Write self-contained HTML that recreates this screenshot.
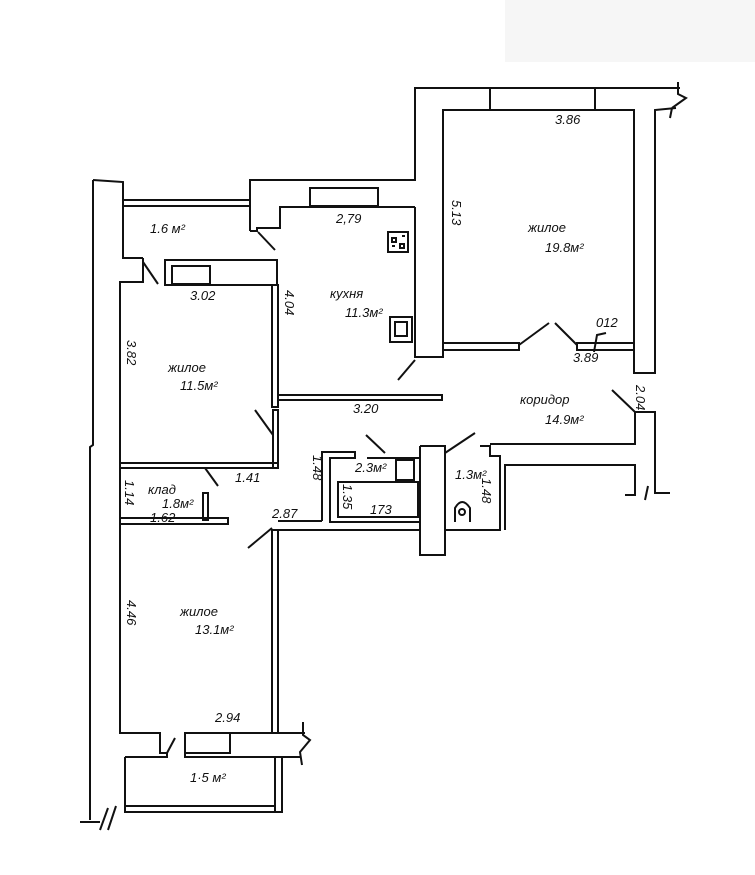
<!DOCTYPE html>
<html><head><meta charset="utf-8"><style>
html,body{margin:0;padding:0;background:#fff;}
svg{display:block}
text{font-family:"Liberation Sans",sans-serif;font-style:italic;fill:#111;font-size:13px}
</style></head><body>
<svg width="755" height="875" viewBox="0 0 755 875" xmlns="http://www.w3.org/2000/svg">
<rect x="505" y="0" width="250" height="62" fill="#f6f6f6"/>
<g fill="none" stroke="#111" stroke-width="2" stroke-linejoin="miter">
<!-- left outer wall -->
<polyline points="93,180 123,182 123,258 143,258"/>
<polyline points="93,180 93,445 90,447 90,820"/>
<line x1="80" y1="822" x2="100" y2="822"/>
<path d="M100,830 L108,808 M108,830 L116,806"/>
<!-- balcony 1.6 -->
<line x1="123" y1="200" x2="250" y2="200"/><line x1="123" y1="206" x2="250" y2="206"/>
<line x1="143" y1="262" x2="158" y2="284"/>
<polyline points="143,258 143,282 120,282 120,733 160,733 160,753 167,753"/>
<rect x="165" y="260" width="112" height="25"/>
<rect x="172" y="266" width="38" height="18"/>
<!-- kitchen block -->
<polyline points="250,231 250,180 415,180 415,88 680,88"/>
<polyline points="250,231 257,231 257,228 280,228 280,207 415,207"/>
<rect x="310" y="188" width="68" height="18"/>
<line x1="258" y1="232" x2="275" y2="250"/>
<rect x="272" y="285" width="6" height="122"/>
<rect x="278" y="395" width="164" height="5"/>
<polyline points="415,207 415,357 443,357 443,110 634,110 634,373 655,373 655,110 676,108"/>
<path d="M678,82 L678,94 L686,98 L672,108 M672,108 L670,118"/>
<rect x="490" y="88" width="105" height="22"/>
<line x1="398" y1="380" x2="415" y2="360"/>
<rect x="388" y="232" width="20" height="20"/>
<path d="M392,238h4v4h-4z M400,244h4v4h-4z M392,246h3 M402,236h3"/>
<rect x="390" y="317" width="22" height="25"/><rect x="395" y="322" width="12" height="14"/>
<!-- big room bottom -->
<rect x="443" y="343" width="76" height="7"/>
<rect x="577" y="343" width="57" height="7"/>
<line x1="519" y1="345" x2="549" y2="323"/><line x1="555" y1="323" x2="577" y2="345"/>
<path d="M594,352 L597,335 L606,333"/>
<!-- bedroom 11.5 right + bottom -->
<rect x="273" y="410" width="5" height="58"/>
<line x1="255" y1="410" x2="273" y2="435"/>
<rect x="120" y="463" width="158" height="5"/>
<line x1="205" y1="468" x2="218" y2="486"/>
<!-- storage -->
<rect x="203" y="493" width="5" height="27"/>
<rect x="120" y="518" width="108" height="6"/>
<!-- bathroom -->
<polyline points="322,521 322,452 355,452 355,458 330,458 330,522 420,522"/>
<polyline points="278,530 420,530"/>
<polyline points="278,521 322,521"/>
<rect x="338" y="482" width="80" height="35"/>
<rect x="396" y="460" width="18" height="20"/>
<polyline points="367,458 420,458"/>
<line x1="366" y1="435" x2="385" y2="453"/>
<polyline points="420,446 445,446 445,555 420,555 420,446"/>
<line x1="445" y1="453" x2="475" y2="433"/>
<polyline points="445,520 445,530 478,530"/>
<polyline points="480,446 490,446 490,456 500,456 500,530 478,530"/>
<path d="M455,522 L455,508 Q462,496 470,508 L470,522"/>
<circle cx="462" cy="512" r="3"/>
<!-- corridor right -->
<polyline points="490,444 635,444 635,412 655,412 655,493 670,493"/>
<polyline points="505,530 505,465 635,465 635,495 625,495"/>
<line x1="612" y1="390" x2="635" y2="412"/>
<path d="M645,500 L648,486"/>
<!-- lower bedroom -->
<line x1="248" y1="548" x2="272" y2="528"/>
<rect x="272" y="530" width="6" height="203"/>
<polyline points="185,733 305,733"/>
<path d="M303,722 L303,735 L310,740 L300,752 L302,765"/>
<rect x="185" y="733" width="45" height="20"/>
<!-- balcony 1.5 -->
<polyline points="125,757 167,757 167,753"/>
<line x1="167" y1="753" x2="175" y2="738"/>
<polyline points="185,733 185,757 282,757 282,812 125,812 125,757"/>
<line x1="125" y1="806" x2="275" y2="806"/>
<line x1="275" y1="757" x2="275" y2="812"/>
<line x1="282" y1="757" x2="300" y2="757"/>
</g>
<g>
<text x="150" y="233">1.6 м²</text>
<text x="336" y="223">2,79</text>
<text x="190" y="300">3.02</text>
<text x="555" y="124" font-size="12">3.86</text>
<text x="528" y="232" font-size="14">жилое</text>
<text x="545" y="252" font-size="14">19.8м²</text>
<text x="330" y="298">кухня</text>
<text x="345" y="317">11.3м²</text>
<text x="168" y="372">жилое</text>
<text x="180" y="390">11.5м²</text>
<text x="353" y="413">3.20</text>
<text x="573" y="362" font-size="12">3.89</text>
<text x="596" y="327" font-size="10">012</text>
<text x="520" y="404" font-size="14">коридор</text>
<text x="545" y="424" font-size="14">14.9м²</text>
<text x="235" y="482">1.41</text>
<text x="148" y="494">клад</text>
<text x="162" y="508">1.8м²</text>
<text x="150" y="522" font-size="11">1.62</text>
<text x="355" y="472">2.3м²</text>
<text x="455" y="479" font-size="12">1.3м²</text>
<text x="370" y="514" font-size="12">173</text>
<text x="272" y="518">2.87</text>
<text x="180" y="616">жилое</text>
<text x="195" y="634">13.1м²</text>
<text x="215" y="722">2.94</text>
<text x="190" y="782">1·5 м²</text>
<text transform="translate(452,200) rotate(90)" font-size="12">5.13</text>
<text transform="translate(285,290) rotate(90)" font-size="12">4.04</text>
<text transform="translate(127,340) rotate(90)" font-size="12">3.82</text>
<text transform="translate(127,600) rotate(90)" font-size="12">4.46</text>
<text transform="translate(125,480) rotate(90)" font-size="11">1.14</text>
<text transform="translate(313,455) rotate(90)" font-size="12">1.48</text>
<text transform="translate(343,484) rotate(90)" font-size="11">1.35</text>
<text transform="translate(482,478) rotate(90)" font-size="11">1.48</text>
<text transform="translate(636,385) rotate(90)" font-size="12">2.04</text>
</g>
</svg>
</body></html>
